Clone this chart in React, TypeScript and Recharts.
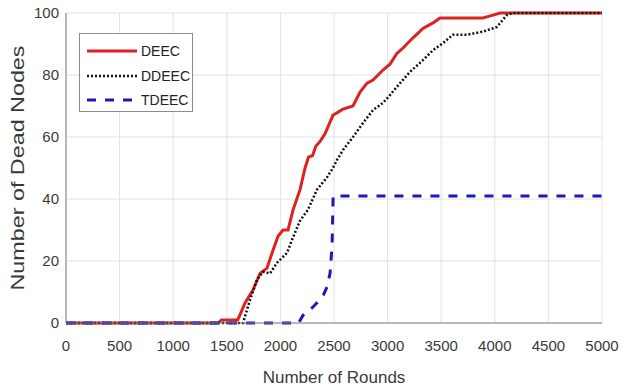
import { LineChart, Line, XAxis, YAxis, CartesianGrid } from "recharts";

// values
const deecRounds = [0, 1420, 1450, 1600, 1615, 1670, 1744, 1810, 1875, 1931, 1978, 2024, 2071, 2118, 2183, 2230, 2262, 2300, 2330, 2369, 2416, 2490, 2584, 2677, 2743, 2808, 2864, 2957, 3022, 3088, 3144, 3237, 3330, 3423, 3489, 3890, 3950, 4050, 5000];
const deecDead = [0, 0, 1, 1, 2, 6.5, 10.6, 16, 17.7, 23.5, 28, 30, 30, 36.5, 43, 50, 53.5, 54, 57, 58.5, 61, 67, 69, 70, 74.5, 77.4, 78.4, 81.6, 83.5, 87, 88.7, 92, 95, 96.8, 98.4, 98.4, 99, 100, 100];

const ddeecRounds = [0, 1651, 1716, 1782, 1838, 1903, 1968, 2062, 2108, 2183, 2257, 2341, 2435, 2490, 2528, 2584, 2677, 2770, 2864, 2957, 3022, 3116, 3209, 3330, 3423, 3517, 3610, 3740, 3890, 4020, 4114, 4170, 5000];
const ddeecDead = [0, 0, 7.4, 14, 16.5, 16, 19.4, 22.6, 26.8, 33, 36.5, 43, 47, 50, 52.6, 55.8, 60, 64.5, 68.7, 71, 73.5, 77.4, 81, 84.8, 88, 90.3, 93, 93, 94, 95.5, 99.4, 100, 100];

const tdeecRounds = [0, 2170, 2211, 2300, 2341, 2400, 2435, 2463, 2482, 2492, 5000];
const tdeecDead = [0, 0, 2.5, 5, 6.5, 9, 11.6, 16, 25, 41, 41];

const xTicks = [0, 500, 1000, 1500, 2000, 2500, 3000, 3500, 4000, 4500, 5000];
const yTicks = [0, 20, 40, 60, 80, 100];

const series = [
  { name: "DEEC", rounds: deecRounds, dead: deecDead, color: "#dc2222", width: 3, dash: undefined },
  { name: "DDEEC", rounds: ddeecRounds, dead: ddeecDead, color: "#111111", width: 2.5, dash: "2 2" },
  { name: "TDEEC", rounds: tdeecRounds, dead: tdeecDead, color: "#1a1ab8", width: 3, dash: "9 9" },
];

const toPoints = (rounds: number[], dead: number[]) =>
  rounds.map((r, i) => ({ round: r, dead: dead[i] }));

const font = "'Liberation Sans', Arial, sans-serif";
const textColor = "#3a3a3a";
const boxColor = "#808080";

function LegendBox() {
  return (
    <div
      style={{
        position: "absolute",
        left: 79,
        top: 33,
        border: "1px solid #8c8c8c",
        background: "#fff",
        width: 114,
        height: 79,
        boxSizing: "border-box",
        paddingTop: 5,
        fontFamily: font,
        fontSize: 14,
        color: "#222",
      }}
    >
      {series.map((s) => (
        <div key={s.name} style={{ display: "flex", alignItems: "center", height: 24.5 }}>
          <svg width={58} height={10} style={{ marginLeft: 7 }}>
            <line
              x1={0}
              y1={5}
              x2={50}
              y2={5}
              stroke={s.color}
              strokeWidth={s.width}
              strokeDasharray={s.dash}
            />
          </svg>
          <span style={{ marginLeft: -4 }}>{s.name}</span>
        </div>
      ))}
    </div>
  );
}

export default function App() {
  return (
    <div style={{ position: "absolute", left: 0, top: 0, width: 633, height: 386, background: "#fff" }}>
      <LineChart width={633} height={386} margin={{ top: 13, right: 31, bottom: 13, left: 0 }}>
        <CartesianGrid stroke="#e2e2e2" strokeWidth={1} />
        <XAxis
          dataKey="round"
          type="number"
          domain={[0, 5000]}
          ticks={xTicks}
          allowDuplicatedCategory={false}
          height={50}
          tickSize={0}
          tickMargin={17}
          axisLine={{ stroke: boxColor }}
          tick={{ fontSize: 15, fill: textColor, fontFamily: font }}
          label={{
            value: "Number of Rounds",
            position: "insideBottom",
            offset: -10,
            fontSize: 17,
            fill: textColor,
            fontFamily: font,
          }}
        />
        <XAxis xAxisId="top" orientation="top" type="number" domain={[0, 5000]} height={0} tick={false} tickLine={false} axisLine={{ stroke: boxColor }} />
        <YAxis
          type="number"
          domain={[0, 100]}
          ticks={yTicks}
          width={66}
          tickSize={0}
          tickMargin={7}
          axisLine={{ stroke: boxColor }}
          tick={{ fontSize: 15, fill: textColor, fontFamily: font }}
          label={{
            content: () => (
              <text
                x={18}
                y={168}
                transform="rotate(-90 18 168)"
                textAnchor="middle"
                dominantBaseline="central"
                fontSize={18}
                fill={textColor}
                fontFamily={font}
                textLength={245}
                lengthAdjust="spacingAndGlyphs"
              >
                Number of Dead Nodes
              </text>
            ),
          }}
        />
        <YAxis yAxisId="right" orientation="right" type="number" domain={[0, 100]} width={0} tick={false} tickLine={false} axisLine={{ stroke: boxColor }} />
        {series.map((s) => (
          <Line
            key={s.name}
            data={toPoints(s.rounds, s.dead)}
            dataKey="dead"
            name={s.name}
            type="linear"
            stroke={s.color}
            strokeWidth={s.width}
            strokeDasharray={s.dash}
            dot={false}
            activeDot={false}
            isAnimationActive={false}
          />
        ))}
      </LineChart>
      <LegendBox />
    </div>
  );
}
